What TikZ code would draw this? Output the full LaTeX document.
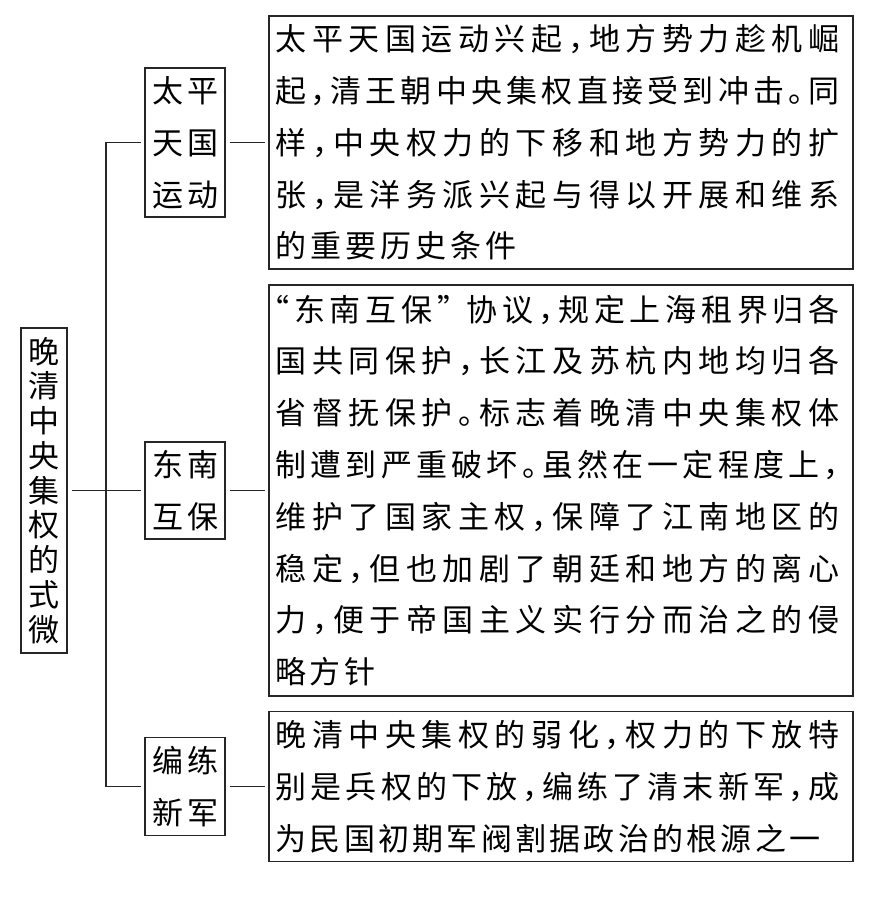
\documentclass[tikz,border=0pt]{standalone}
\usepackage{fontspec}
\newfontfamily\cjk{Noto Sans CJK SC}
\usepackage{tikz}

\def\spr#1{#1\sprnext}
\def\sprnext#1{\ifx#1\relax\else\hfill#1\expandafter\sprnext\fi}
\newcommand\cm{\makebox[.5em][l]{，}}
\newcommand\pd{\makebox[.5em][l]{。}}
\newcommand\qo{\makebox[.45em][r]{“}}
\newcommand\qc{\makebox[.8em][l]{”}}
\newcommand\fl[1]{\makebox[564pt][s]{\spr#1\relax}}
\newcommand\pl[2]{\makebox[#1][s]{\spr#2\relax}}

\begin{document}
\begin{tikzpicture}[x=1pt, y=-1pt, line width=1.2pt, draw=black!85,
	box/.style={draw, inner sep=0pt, outer sep=4.5pt, align=center},
	head/.style={box, minimum width=80pt, font=\cjk\fontsize{31pt}{52pt}\selectfont},
	txt/.style={draw, inner xsep=6.5pt, inner ysep=0pt, outer sep=4.5pt, minimum width=584pt, text width=571pt, align=left, font=\cjk\fontsize{31pt}{51.8pt}\selectfont}]
	\useasboundingbox (0,0) rectangle (873,905);
	\node (root) [box, minimum width=46pt, minimum height=325pt, font=\cjk\fontsize{31pt}{34.75pt}\selectfont] at (44,490.5) {晚\\清\\中\\央\\集\\权\\的\\式\\微};
	\node (tp) [head, minimum height=149pt] at (185,142.5) {太\hspace{4pt}平\\天\hspace{4pt}国\\运\hspace{4pt}动};
	\node (dn) [head, minimum height=97pt] at (185,490.5) {东\hspace{4pt}南\\互\hspace{4pt}保};
	\node (xj) [head, minimum height=98pt] at (185,786.5) {编\hspace{4pt}练\\新\hspace{4pt}军};
	\node (t1) [txt, minimum height=253pt] at (561,142.5) {\fl{太平天国运动兴起\cm 地方势力趁机崛}\\
		\fl{起\cm 清王朝中央集权直接受到冲击\pd 同}\\
		\fl{样\cm 中央权力的下移和地方势力的扩}\\
		\fl{张\cm 是洋务派兴起与得以开展和维系}\\
		\pl{241pt}{的重要历史条件}};
	\node (t2) [txt, minimum height=411pt] at (561,490.5) {\fl{\qo 东南互保\qc 协议\cm 规定上海租界归各}\\
		\fl{国共同保护\cm 长江及苏杭内地均归各}\\
		\fl{省督抚保护\pd 标志着晚清中央集权体}\\
		\fl{制遭到严重破坏\pd 虽然在一定程度上\cm}\\
		\fl{维护了国家主权\cm 保障了江南地区的}\\
		\fl{稳定\cm 但也加剧了朝廷和地方的离心}\\
		\fl{力\cm 便于帝国主义实行分而治之的侵}\\
		\pl{100pt}{略方针}};
	\node (t3) [txt, minimum height=150pt] at (561,786.5) {\fl{晚清中央集权的弱化\cm 权力的下放特}\\
		\fl{别是兵权的下放\cm 编练了清末新军\cm 成}\\
		\pl{545pt}{为民国初期军阀割据政治的根源之一}};
	\coordinate (bus) at (106,490.5);
	\draw (root) -- (dn);
	\draw (tp.west) -| (bus) |- (xj.west);
	\draw (tp) -- (t1);
	\draw (dn) -- (t2);
	\draw (xj) -- (t3);
\end{tikzpicture}
\end{document}
